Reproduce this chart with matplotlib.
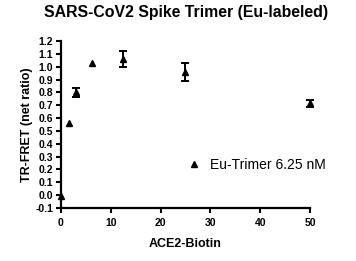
import numpy as np
import matplotlib
matplotlib.use("Agg")
import matplotlib.pyplot as plt
from matplotlib.ticker import FormatStrFormatter, MultipleLocator

plt.rcParams['font.family'] = ['Liberation Sans', 'DejaVu Sans']
plt.rcParams['axes.unicode_minus'] = False

# data
ace2 = [0.0, 1.5625, 3.125, 6.25, 12.5, 25.0, 50.0]
ratio = [-0.01, 0.56, 0.80, 1.03, 1.06, 0.96, 0.715]
err = [0.0, 0.0, 0.033, 0.0, 0.064, 0.07, 0.026]
series_label = "Eu-Trimer 6.25 nM"

fig = plt.figure(figsize=(3.56, 2.61), dpi=100)
ax = fig.add_axes([0.171, 0.203, 0.70, 0.640])

# error bars only where there is a visible spread
xe = [x for x, e in zip(ace2, err) if e > 0]
ye = [y for y, e in zip(ratio, err) if e > 0]
ee = [e for e in err if e > 0]
ax.errorbar(xe, ye, yerr=ee, fmt='none', ecolor='black', elinewidth=1.4,
            capsize=3, capthick=1.4, clip_on=False)
ax.plot(ace2, ratio, '^', color='black', ms=5, label=series_label, clip_on=False)

ax.set_xlim(0, 50)
ax.set_ylim(-0.1, 1.2)
ax.xaxis.set_major_locator(MultipleLocator(10))
ax.yaxis.set_major_locator(MultipleLocator(0.1))
ax.yaxis.set_major_formatter(FormatStrFormatter('%.1f'))

for s in ['top', 'right']:
    ax.spines[s].set_visible(False)
for s in ['left', 'bottom']:
    ax.spines[s].set_linewidth(1.6)
ax.tick_params(width=1.5, length=3.5, labelsize=7.5, pad=2)
ax.tick_params(axis='x', pad=4)
for lab in ax.get_xticklabels() + ax.get_yticklabels():
    lab.set_fontweight('bold')

ax.set_xlabel('ACE2-Biotin', fontsize=9, fontweight='bold', labelpad=7)
ax.set_ylabel('TR-FRET (net ratio)', fontsize=9, fontweight='bold', labelpad=2)
fig.text(0.523, 0.953, 'SARS-CoV2 Spike Trimer (Eu-labeled)', fontsize=11.4,
         fontweight='bold', ha='center', va='center')

ax.legend(loc='center left', bbox_to_anchor=(0.48, 0.257), frameon=False,
          fontsize=10, handletextpad=0.6, borderpad=0, markerscale=0.8,
          handlelength=1.0)

fig.savefig('out.png', dpi=100)
